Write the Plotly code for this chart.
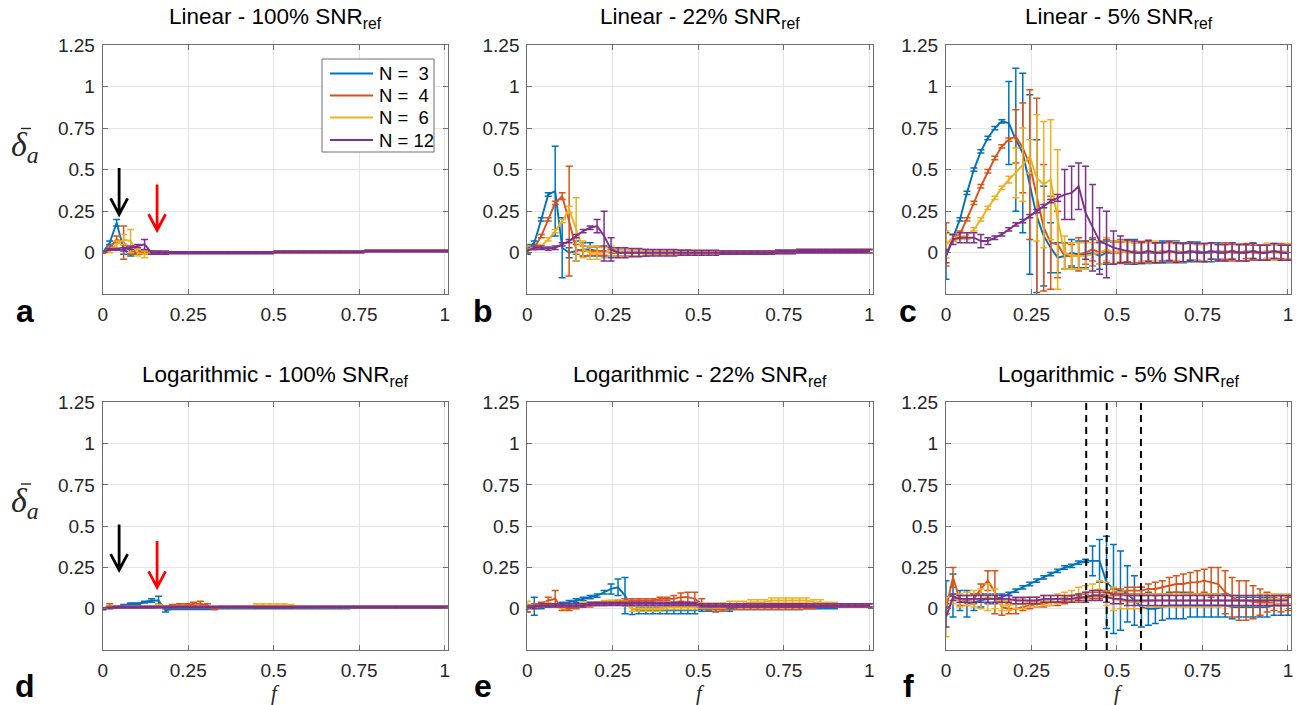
import plotly.graph_objects as go

# ---------------- data ----------------
f_values = [round(k / 49, 4) for k in range(50)]
series_labels = ["N =\u00a0\u00a03", "N =\u00a0\u00a04", "N =\u00a0\u00a06", "N = 12"]
series_colors = ["#0072BD", "#D95319", "#EDB120", "#7E2F8E"]
panel_titles = ["Linear - 100% SNR<sub>ref</sub>", "Linear - 22% SNR<sub>ref</sub>",
                "Linear - 5% SNR<sub>ref</sub>", "Logarithmic - 100% SNR<sub>ref</sub>",
                "Logarithmic - 22% SNR<sub>ref</sub>", "Logarithmic - 5% SNR<sub>ref</sub>"]
panel_letters = ["a", "b", "c", "d", "e", "f"]
x_tick_vals = [0, 0.25, 0.5, 0.75, 1]
x_tick_text = ["0", "0.25", "0.5", "0.75", "1"]
y_tick_vals = [0, 0.25, 0.5, 0.75, 1, 1.25]
y_tick_text = ["0", "0.25", "0.5", "0.75", "1", "1.25"]

arrow_f = [0.048, 0.159]
arrow_top_start = [0.51, 0.41]
arrow_top_end = [0.23, 0.135]
arrow_bottom_start = [0.51, 0.41]
arrow_bottom_end = [0.235, 0.13]
arrow_colors = ["black", "red"]
dashed_f = [0.41, 0.47, 0.57]

# Linear - 100%
lin100_n3 = [0.00, 0.06, 0.18, 0.02, -0.01, 0.00, 0.00, 0.00, 0.00, 0.00,
             0.00, 0.00, 0.00, 0.00, 0.00, 0.00, 0.00, 0.00, 0.00, 0.00,
             0.00, 0.00, 0.00, 0.00, 0.00, 0.005, 0.005, 0.005, 0.005, 0.005,
             0.005, 0.005, 0.005, 0.005, 0.005, 0.005, 0.005, 0.005, 0.01, 0.01,
             0.01, 0.01, 0.01, 0.01, 0.01, 0.01, 0.01, 0.01, 0.01, 0.01]
lin100_n3_err = [0.00, 0.01, 0.02, 0.03, 0.01, 0.01, 0.01, 0.01, 0.005, 0.005,
                 0.005, 0.005, 0.005, 0.005, 0.005, 0.005, 0.005, 0.005, 0.005, 0.005,
                 0.005, 0.005, 0.005, 0.005, 0.005, 0.005, 0.005, 0.005, 0.005, 0.005,
                 0.005, 0.005, 0.005, 0.005, 0.005, 0.005, 0.005, 0.005, 0.005, 0.005,
                 0.005, 0.005, 0.005, 0.005, 0.005, 0.005, 0.005, 0.005, 0.005, 0.005]
lin100_n4 = [0.00, 0.03, 0.08, 0.06, 0.01, 0.00, 0.00, 0.00, 0.00, 0.00,
             0.00, 0.00, 0.00, 0.00, 0.00, 0.00, 0.00, 0.00, 0.00, 0.00,
             0.00, 0.00, 0.00, 0.00, 0.00, 0.005, 0.005, 0.005, 0.005, 0.005,
             0.005, 0.005, 0.005, 0.005, 0.005, 0.005, 0.005, 0.005, 0.01, 0.01,
             0.01, 0.01, 0.01, 0.01, 0.01, 0.01, 0.01, 0.01, 0.01, 0.01]
lin100_n4_err = [0.00, 0.01, 0.02, 0.10, 0.02, 0.01, 0.01, 0.005, 0.005, 0.005,
                 0.005, 0.005, 0.005, 0.005, 0.005, 0.005, 0.005, 0.005, 0.005, 0.005,
                 0.005, 0.005, 0.005, 0.005, 0.005, 0.005, 0.005, 0.005, 0.005, 0.005,
                 0.005, 0.005, 0.005, 0.005, 0.005, 0.005, 0.005, 0.005, 0.005, 0.005,
                 0.005, 0.005, 0.005, 0.005, 0.005, 0.005, 0.005, 0.005, 0.005, 0.005]
lin100_n6 = [0.00, 0.01, 0.05, 0.08, 0.07, 0.00, -0.01, 0.00, 0.00, 0.00,
             0.00, 0.00, 0.00, 0.00, 0.00, 0.00, 0.00, 0.00, 0.00, 0.00,
             0.00, 0.00, 0.00, 0.00, 0.00, 0.005, 0.005, 0.005, 0.005, 0.005,
             0.005, 0.005, 0.005, 0.005, 0.005, 0.005, 0.005, 0.005, 0.01, 0.01,
             0.01, 0.01, 0.01, 0.01, 0.01, 0.01, 0.01, 0.01, 0.01, 0.01]
lin100_n6_err = [0.00, 0.01, 0.02, 0.03, 0.07, 0.02, 0.02, 0.01, 0.01, 0.005,
                 0.005, 0.005, 0.005, 0.005, 0.005, 0.005, 0.005, 0.005, 0.005, 0.005,
                 0.005, 0.005, 0.005, 0.005, 0.005, 0.005, 0.005, 0.005, 0.005, 0.005,
                 0.005, 0.005, 0.005, 0.005, 0.005, 0.005, 0.005, 0.005, 0.005, 0.005,
                 0.005, 0.005, 0.005, 0.005, 0.005, 0.005, 0.005, 0.005, 0.005, 0.005]
lin100_n12 = [0.00, 0.02, 0.02, 0.02, 0.03, 0.04, 0.05, 0.00, 0.00, 0.00,
              0.00, 0.00, 0.00, 0.00, 0.00, 0.00, 0.00, 0.00, 0.00, 0.00,
              0.00, 0.00, 0.00, 0.00, 0.00, 0.005, 0.005, 0.005, 0.005, 0.005,
              0.005, 0.005, 0.005, 0.005, 0.005, 0.005, 0.005, 0.005, 0.01, 0.01,
              0.01, 0.01, 0.01, 0.01, 0.01, 0.01, 0.01, 0.01, 0.01, 0.01]
lin100_n12_err = [0.00, 0.005, 0.005, 0.01, 0.01, 0.01, 0.03, 0.01, 0.01, 0.01,
                  0.005, 0.005, 0.005, 0.005, 0.005, 0.005, 0.005, 0.005, 0.005, 0.005,
                  0.005, 0.005, 0.005, 0.005, 0.005, 0.005, 0.005, 0.005, 0.005, 0.005,
                  0.005, 0.005, 0.005, 0.005, 0.005, 0.005, 0.005, 0.005, 0.005, 0.005,
                  0.005, 0.005, 0.005, 0.005, 0.005, 0.005, 0.005, 0.005, 0.005, 0.005]

# Linear - 22%
lin22_n3 = [0.02, 0.06, 0.20, 0.35, 0.37, 0.03, 0.00, 0.01, 0.02, 0.02,
            0.01, 0.01, 0.00, 0.00, 0.00, 0.00, 0.00, 0.00, 0.00, 0.00,
            0.00, 0.00, 0.00, 0.00, 0.00, 0.00, 0.00, 0.00, 0.00, 0.00,
            0.00, 0.00, 0.00, 0.00, 0.00, 0.00, 0.005, 0.005, 0.005, 0.01,
            0.01, 0.01, 0.01, 0.01, 0.01, 0.01, 0.01, 0.01, 0.01, 0.01]
lin22_n3_err = [0.03, 0.01, 0.01, 0.01, 0.27, 0.18, 0.03, 0.06, 0.04, 0.04,
                0.03, 0.03, 0.03, 0.02, 0.02, 0.02, 0.02, 0.02, 0.015, 0.015,
                0.015, 0.015, 0.015, 0.015, 0.01, 0.01, 0.01, 0.01, 0.01, 0.01,
                0.01, 0.01, 0.01, 0.01, 0.01, 0.01, 0.01, 0.01, 0.01, 0.01,
                0.01, 0.01, 0.01, 0.01, 0.01, 0.01, 0.01, 0.01, 0.01, 0.01]
lin22_n4 = [0.02, 0.03, 0.10, 0.20, 0.30, 0.34, 0.19, 0.02, 0.01, 0.01,
            0.01, 0.01, 0.00, 0.00, 0.00, 0.00, 0.00, 0.00, 0.00, 0.00,
            0.00, 0.00, 0.00, 0.00, 0.00, 0.00, 0.00, 0.00, 0.00, 0.00,
            0.00, 0.00, 0.00, 0.00, 0.00, 0.00, 0.005, 0.005, 0.005, 0.01,
            0.01, 0.01, 0.01, 0.01, 0.01, 0.01, 0.01, 0.01, 0.01, 0.01]
lin22_n4_err = [0.02, 0.01, 0.01, 0.01, 0.01, 0.02, 0.33, 0.03, 0.03, 0.025,
                0.025, 0.025, 0.02, 0.02, 0.02, 0.02, 0.02, 0.015, 0.015, 0.015,
                0.015, 0.015, 0.015, 0.015, 0.01, 0.01, 0.01, 0.01, 0.01, 0.01,
                0.01, 0.01, 0.01, 0.01, 0.01, 0.01, 0.01, 0.01, 0.01, 0.01,
                0.01, 0.01, 0.01, 0.01, 0.01, 0.01, 0.01, 0.01, 0.01, 0.01]
lin22_n6 = [0.02, 0.03, 0.04, 0.08, 0.13, 0.19, 0.26, 0.14, 0.02, 0.00,
            0.00, 0.00, 0.01, 0.00, 0.00, 0.00, 0.00, 0.00, 0.00, 0.00,
            0.00, 0.00, 0.00, 0.00, 0.00, 0.00, 0.00, 0.00, 0.00, 0.00,
            0.00, 0.00, 0.00, 0.00, 0.00, 0.00, 0.005, 0.005, 0.005, 0.01,
            0.01, 0.01, 0.01, 0.01, 0.01, 0.01, 0.01, 0.01, 0.01, 0.01]
lin22_n6_err = [0.02, 0.01, 0.01, 0.01, 0.01, 0.01, 0.02, 0.19, 0.05, 0.04,
                0.04, 0.03, 0.03, 0.02, 0.02, 0.02, 0.02, 0.015, 0.015, 0.015,
                0.015, 0.015, 0.015, 0.015, 0.01, 0.01, 0.01, 0.01, 0.01, 0.01,
                0.01, 0.01, 0.01, 0.01, 0.01, 0.01, 0.01, 0.01, 0.01, 0.01,
                0.01, 0.01, 0.01, 0.01, 0.01, 0.01, 0.01, 0.01, 0.01, 0.01]
lin22_n12 = [0.01, 0.03, 0.03, 0.025, 0.03, 0.05, 0.07, 0.10, 0.13, 0.15,
             0.16, 0.10, 0.02, 0.00, 0.00, 0.00, 0.00, 0.00, 0.00, 0.00,
             0.00, 0.00, 0.00, 0.00, 0.00, 0.00, 0.00, 0.00, 0.00, 0.00,
             0.00, 0.00, 0.00, 0.00, 0.00, 0.00, 0.005, 0.005, 0.005, 0.01,
             0.01, 0.01, 0.01, 0.01, 0.01, 0.01, 0.01, 0.01, 0.01, 0.01]
lin22_n12_err = [0.01, 0.01, 0.01, 0.01, 0.01, 0.01, 0.01, 0.01, 0.01, 0.01,
                 0.04, 0.15, 0.07, 0.03, 0.03, 0.025, 0.025, 0.02, 0.02, 0.02,
                 0.02, 0.02, 0.015, 0.015, 0.015, 0.015, 0.015, 0.015, 0.01, 0.01,
                 0.01, 0.01, 0.01, 0.01, 0.01, 0.01, 0.01, 0.01, 0.01, 0.01,
                 0.01, 0.01, 0.01, 0.01, 0.01, 0.01, 0.01, 0.01, 0.01, 0.01]

# Linear - 5%
lin5_n3 = [-0.02, 0.09, 0.20, 0.36, 0.50, 0.61, 0.69, 0.75, 0.79, 0.78,
           0.68, 0.60, 0.41, 0.22, 0.10, 0.03, -0.03, -0.02, 0.00, -0.01,
           -0.01, 0.00, -0.02, 0.00, 0.00, 0.01, 0.00, 0.01, 0.00, 0.00,
           0.00, 0.01, 0.00, 0.01, 0.00, 0.00, 0.01, 0.00, 0.00, 0.01,
           0.00, 0.01, 0.00, 0.00, 0.01, 0.00, 0.00, 0.01, 0.00, 0.00]
lin5_n3_err = [0.14, 0.02, 0.01, 0.01, 0.01, 0.01, 0.01, 0.01, 0.01, 0.25,
               0.43, 0.48, 0.54, 0.46, 0.30, 0.15, 0.09, 0.08, 0.08, 0.08,
               0.08, 0.08, 0.08, 0.07, 0.07, 0.07, 0.07, 0.07, 0.065, 0.065,
               0.06, 0.06, 0.06, 0.06, 0.06, 0.055, 0.055, 0.055, 0.055, 0.05,
               0.05, 0.05, 0.05, 0.05, 0.05, 0.045, 0.045, 0.045, 0.045, 0.045]
lin5_n4 = [0.05, 0.09, 0.11, 0.20, 0.30, 0.40, 0.49, 0.57, 0.64, 0.68,
           0.70, 0.63, 0.53, 0.33, 0.15, 0.06, 0.05, -0.02, -0.02, -0.01,
           0.00, 0.02, 0.00, 0.01, 0.00, 0.00, 0.01, 0.00, 0.00, 0.01,
           0.00, 0.00, 0.01, 0.00, 0.00, 0.01, 0.00, 0.00, 0.01, 0.00,
           0.01, 0.00, 0.00, 0.01, 0.00, 0.00, 0.01, 0.00, 0.01, 0.00]
lin5_n4_err = [0.13, 0.02, 0.02, 0.01, 0.01, 0.01, 0.01, 0.01, 0.01, 0.01,
               0.16, 0.27, 0.45, 0.60, 0.38, 0.28, 0.20, 0.08, 0.07, 0.10,
               0.07, 0.07, 0.07, 0.07, 0.065, 0.065, 0.065, 0.06, 0.06, 0.06,
               0.06, 0.06, 0.055, 0.055, 0.055, 0.055, 0.05, 0.05, 0.05, 0.05,
               0.05, 0.05, 0.05, 0.045, 0.045, 0.045, 0.045, 0.045, 0.045, 0.045]
lin5_n6 = [0.05, 0.09, 0.10, 0.10, 0.14, 0.20, 0.27, 0.33, 0.39, 0.44,
           0.48, 0.53, 0.58, 0.45, 0.41, 0.44, 0.20, 0.00, -0.02, -0.02,
           -0.02, -0.01, 0.00, 0.02, 0.00, 0.01, 0.00, 0.00, 0.01, 0.00,
           0.01, 0.00, 0.00, 0.01, 0.00, 0.01, 0.00, 0.00, 0.01, 0.00,
           0.00, 0.01, 0.00, 0.00, 0.01, 0.00, 0.01, 0.00, 0.00, 0.01]
lin5_n6_err = [0.08, 0.02, 0.02, 0.02, 0.01, 0.01, 0.01, 0.01, 0.01, 0.02,
               0.15, 0.22, 0.10, 0.38, 0.38, 0.36, 0.42, 0.10, 0.08, 0.08,
               0.08, 0.07, 0.07, 0.07, 0.07, 0.065, 0.065, 0.065, 0.06, 0.06,
               0.06, 0.06, 0.055, 0.055, 0.055, 0.055, 0.05, 0.05, 0.05, 0.05,
               0.05, 0.05, 0.05, 0.045, 0.045, 0.045, 0.045, 0.045, 0.045, 0.045]
lin5_n12 = [-0.02, 0.08, 0.09, 0.09, 0.09, 0.07, 0.07, 0.09, 0.11, 0.14,
            0.17, 0.19, 0.22, 0.25, 0.28, 0.31, 0.33, 0.35, 0.36, 0.40,
            0.24, 0.15, 0.07, 0.05, 0.03, 0.02, 0.01, 0.00, 0.00, 0.01,
            0.00, 0.00, 0.01, 0.00, 0.00, 0.01, 0.00, 0.00, 0.01, 0.00,
            0.00, 0.01, 0.00, 0.00, 0.01, 0.00, 0.00, 0.01, 0.00, 0.00]
lin5_n12_err = [0.04, 0.03, 0.03, 0.03, 0.03, 0.04, 0.02, 0.01, 0.01, 0.01,
                0.01, 0.01, 0.01, 0.01, 0.01, 0.01, 0.02, 0.15, 0.16, 0.14,
                0.28, 0.26, 0.20, 0.20, 0.10, 0.08, 0.07, 0.07, 0.065, 0.065,
                0.06, 0.06, 0.06, 0.06, 0.055, 0.055, 0.055, 0.055, 0.05, 0.05,
                0.05, 0.05, 0.05, 0.05, 0.045, 0.045, 0.045, 0.045, 0.045, 0.045]

# Logarithmic - 100%
log100_n3 = [0.00, 0.01, 0.01, 0.02, 0.03, 0.03, 0.04, 0.05, 0.05, -0.01,
             0.00, 0.00, 0.00, 0.00, 0.00, 0.00, 0.00, 0.005, 0.005, 0.005,
             0.005, 0.005, 0.005, 0.005, 0.005, 0.005, 0.005, 0.005, 0.005, 0.005,
             0.005, 0.005, 0.005, 0.005, 0.005, 0.005, 0.01, 0.01, 0.01, 0.01,
             0.01, 0.01, 0.01, 0.01, 0.01, 0.01, 0.01, 0.01, 0.01, 0.01]
log100_n3_err = [0.005, 0.005, 0.005, 0.005, 0.005, 0.005, 0.005, 0.01, 0.025, 0.01,
                 0.005, 0.005, 0.005, 0.005, 0.005, 0.005, 0.005, 0.005, 0.005, 0.005,
                 0.005, 0.005, 0.005, 0.005, 0.005, 0.005, 0.005, 0.005, 0.005, 0.005,
                 0.005, 0.005, 0.005, 0.005, 0.005, 0.005, 0.005, 0.005, 0.005, 0.005,
                 0.005, 0.005, 0.005, 0.005, 0.005, 0.005, 0.005, 0.005, 0.005, 0.005]
log100_n4 = [0.00, 0.02, 0.01, 0.01, 0.01, 0.01, 0.01, 0.01, 0.02, 0.01,
             0.02, 0.02, 0.02, 0.03, 0.03, 0.02, 0.00, 0.01, 0.01, 0.01,
             0.01, 0.01, 0.01, 0.01, 0.01, 0.01, 0.01, 0.01, 0.01, 0.01,
             0.01, 0.01, 0.01, 0.01, 0.01, 0.01, 0.01, 0.01, 0.01, 0.01,
             0.01, 0.01, 0.01, 0.01, 0.01, 0.01, 0.01, 0.01, 0.01, 0.01]
log100_n4_err = [0.005, 0.01, 0.005, 0.005, 0.005, 0.005, 0.005, 0.005, 0.005, 0.005,
                 0.005, 0.01, 0.01, 0.01, 0.015, 0.01, 0.005, 0.005, 0.005, 0.005,
                 0.005, 0.005, 0.005, 0.005, 0.005, 0.005, 0.005, 0.005, 0.005, 0.005,
                 0.005, 0.005, 0.005, 0.005, 0.005, 0.005, 0.005, 0.005, 0.005, 0.005,
                 0.005, 0.005, 0.005, 0.005, 0.005, 0.005, 0.005, 0.005, 0.005, 0.005]
log100_n6 = [0.00, 0.01, 0.01, 0.01, 0.01, 0.01, 0.01, 0.01, 0.02, 0.01,
             0.01, 0.01, 0.01, 0.01, 0.01, 0.01, 0.01, 0.01, 0.01, 0.01,
             0.01, 0.01, 0.02, 0.02, 0.02, 0.02, 0.02, 0.02, 0.01, 0.01,
             0.01, 0.01, 0.01, 0.01, 0.01, 0.01, 0.01, 0.01, 0.01, 0.01,
             0.01, 0.01, 0.01, 0.01, 0.01, 0.01, 0.01, 0.01, 0.01, 0.01]
log100_n6_err = [0.005, 0.005, 0.005, 0.005, 0.005, 0.005, 0.005, 0.005, 0.005, 0.005,
                 0.005, 0.005, 0.005, 0.005, 0.005, 0.005, 0.005, 0.005, 0.005, 0.005,
                 0.005, 0.005, 0.01, 0.01, 0.01, 0.01, 0.01, 0.005, 0.005, 0.005,
                 0.005, 0.005, 0.005, 0.005, 0.005, 0.005, 0.005, 0.005, 0.005, 0.005,
                 0.005, 0.005, 0.005, 0.005, 0.005, 0.005, 0.005, 0.005, 0.005, 0.005]
log100_n12 = [0.00, 0.005, 0.01, 0.01, 0.01, 0.01, 0.01, 0.01, 0.01, 0.01,
              0.01, 0.01, 0.01, 0.01, 0.01, 0.01, 0.01, 0.01, 0.01, 0.01,
              0.01, 0.01, 0.01, 0.01, 0.01, 0.01, 0.01, 0.01, 0.01, 0.01,
              0.01, 0.01, 0.01, 0.01, 0.01, 0.01, 0.01, 0.01, 0.01, 0.01,
              0.01, 0.01, 0.01, 0.01, 0.01, 0.01, 0.01, 0.01, 0.01, 0.01]
log100_n12_err = [0.005, 0.005, 0.005, 0.005, 0.005, 0.005, 0.005, 0.005, 0.005, 0.005,
                  0.005, 0.005, 0.005, 0.005, 0.005, 0.005, 0.005, 0.005, 0.005, 0.005,
                  0.005, 0.005, 0.005, 0.005, 0.005, 0.005, 0.005, 0.005, 0.005, 0.005,
                  0.005, 0.005, 0.005, 0.005, 0.005, 0.005, 0.005, 0.005, 0.005, 0.005,
                  0.005, 0.005, 0.005, 0.005, 0.005, 0.005, 0.005, 0.005, 0.005, 0.005]

# Logarithmic - 22%
log22_n3 = [0.00, 0.015, 0.01, 0.02, 0.02, 0.03, 0.04, 0.05, 0.06, 0.07,
            0.08, 0.10, 0.12, 0.13, 0.08, 0.00, -0.01, -0.01, -0.01, -0.01,
            -0.01, -0.01, -0.01, -0.01, -0.01, 0.00, 0.00, 0.00, 0.00, 0.00,
            0.01, 0.01, 0.01, 0.01, 0.01, 0.01, 0.01, 0.01, 0.01, 0.01,
            0.01, 0.01, 0.01, 0.01, 0.01, 0.02, 0.02, 0.02, 0.02, 0.02]
log22_n3_err = [0.02, 0.055, 0.01, 0.01, 0.01, 0.01, 0.01, 0.01, 0.01, 0.01,
                0.01, 0.01, 0.03, 0.05, 0.11, 0.035, 0.02, 0.02, 0.02, 0.02,
                0.02, 0.02, 0.02, 0.02, 0.02, 0.015, 0.015, 0.015, 0.015, 0.015,
                0.015, 0.015, 0.015, 0.015, 0.015, 0.015, 0.015, 0.015, 0.015, 0.015,
                0.01, 0.01, 0.01, 0.01, 0.01, 0.01, 0.01, 0.01, 0.01, 0.01]
log22_n4 = [0.00, 0.02, 0.03, 0.05, 0.06, 0.00, 0.00, 0.01, 0.02, 0.02,
            0.03, 0.03, 0.04, 0.04, 0.05, 0.05, 0.05, 0.05, 0.05, 0.06,
            0.06, 0.06, 0.07, 0.07, 0.06, 0.03, 0.01, 0.00, 0.00, 0.01,
            0.01, 0.01, 0.01, 0.01, 0.01, 0.01, 0.01, 0.01, 0.01, 0.01,
            0.01, 0.01, 0.02, 0.02, 0.02, 0.02, 0.02, 0.02, 0.02, 0.02]
log22_n4_err = [0.02, 0.01, 0.01, 0.02, 0.05, 0.01, 0.01, 0.01, 0.01, 0.01,
                0.01, 0.01, 0.01, 0.01, 0.01, 0.01, 0.01, 0.01, 0.01, 0.01,
                0.01, 0.02, 0.025, 0.03, 0.04, 0.03, 0.02, 0.02, 0.015, 0.015,
                0.015, 0.015, 0.015, 0.015, 0.015, 0.015, 0.015, 0.015, 0.015, 0.015,
                0.01, 0.01, 0.01, 0.01, 0.01, 0.01, 0.01, 0.01, 0.01, 0.01]
log22_n6 = [0.03, 0.01, 0.02, 0.03, 0.02, 0.01, 0.02, 0.02, 0.03, 0.03,
            0.03, 0.04, 0.04, 0.04, 0.03, 0.00, 0.00, 0.00, 0.00, 0.00,
            0.01, 0.01, 0.01, 0.01, 0.01, 0.02, 0.02, 0.02, 0.02, 0.03,
            0.03, 0.03, 0.04, 0.04, 0.04, 0.05, 0.05, 0.05, 0.05, 0.05,
            0.05, 0.04, 0.04, 0.03, 0.03, 0.02, 0.02, 0.02, 0.02, 0.02]
log22_n6_err = [0.015, 0.01, 0.01, 0.01, 0.01, 0.01, 0.01, 0.01, 0.01, 0.01,
                0.01, 0.01, 0.01, 0.015, 0.015, 0.015, 0.015, 0.015, 0.015, 0.015,
                0.015, 0.015, 0.015, 0.015, 0.015, 0.015, 0.015, 0.015, 0.015, 0.015,
                0.015, 0.015, 0.015, 0.015, 0.015, 0.015, 0.015, 0.015, 0.015, 0.015,
                0.015, 0.015, 0.015, 0.01, 0.01, 0.01, 0.01, 0.01, 0.01, 0.01]
log22_n12 = [0.01, 0.01, 0.02, 0.02, 0.02, 0.02, 0.02, 0.02, 0.02, 0.03,
             0.03, 0.03, 0.03, 0.03, 0.03, 0.03, 0.03, 0.03, 0.03, 0.03,
             0.03, 0.03, 0.03, 0.03, 0.03, 0.02, 0.02, 0.02, 0.02, 0.02,
             0.02, 0.02, 0.02, 0.02, 0.02, 0.02, 0.02, 0.02, 0.02, 0.02,
             0.02, 0.02, 0.02, 0.02, 0.02, 0.02, 0.02, 0.02, 0.02, 0.02]
log22_n12_err = [0.01, 0.01, 0.01, 0.01, 0.01, 0.01, 0.01, 0.01, 0.01, 0.01,
                 0.01, 0.01, 0.01, 0.01, 0.01, 0.01, 0.01, 0.01, 0.01, 0.01,
                 0.01, 0.01, 0.01, 0.01, 0.01, 0.01, 0.01, 0.01, 0.01, 0.01,
                 0.01, 0.01, 0.01, 0.01, 0.01, 0.01, 0.01, 0.01, 0.01, 0.01,
                 0.01, 0.01, 0.01, 0.01, 0.01, 0.01, 0.01, 0.01, 0.01, 0.01]

# Logarithmic - 5%
log5_n3 = [0.07, 0.08, 0.05, 0.03, 0.04, 0.05, 0.06, 0.06, 0.07, 0.09,
           0.11, 0.13, 0.15, 0.17, 0.19, 0.21, 0.23, 0.25, 0.26, 0.28,
           0.29, 0.29, 0.29, 0.16, 0.12, 0.11, 0.09, 0.05, 0.01, 0.00,
           0.00, 0.01, 0.02, 0.02, 0.02, 0.02, 0.02, 0.02, 0.02, 0.02,
           0.02, 0.01, 0.01, 0.01, 0.01, 0.01, 0.01, 0.02, 0.02, 0.02]
log5_n3_err = [0.10, 0.13, 0.06, 0.08, 0.05, 0.04, 0.03, 0.03, 0.02, 0.01,
               0.01, 0.01, 0.01, 0.01, 0.01, 0.01, 0.01, 0.01, 0.01, 0.01,
               0.01, 0.09, 0.13, 0.28, 0.27, 0.24, 0.17, 0.15, 0.12, 0.10,
               0.09, 0.08, 0.08, 0.08, 0.08, 0.07, 0.07, 0.07, 0.07, 0.07,
               0.07, 0.07, 0.06, 0.06, 0.06, 0.06, 0.06, 0.06, 0.06, 0.06]
log5_n4 = [0.00, 0.19, 0.05, 0.05, 0.06, 0.12, 0.17, 0.10, 0.01, 0.00,
           0.00, 0.01, 0.02, 0.03, 0.03, 0.04, 0.04, 0.05, 0.06, 0.06,
           0.07, 0.08, 0.08, 0.09, 0.10, 0.10, 0.11, 0.11, 0.11, 0.12,
           0.12, 0.13, 0.14, 0.15, 0.15, 0.16, 0.16, 0.17, 0.16, 0.15,
           0.10, 0.07, 0.05, 0.05, 0.04, 0.04, 0.04, 0.03, 0.03, 0.03]
log5_n4_err = [0.03, 0.06, 0.03, 0.03, 0.03, 0.03, 0.06, 0.13, 0.05, 0.03,
               0.03, 0.02, 0.02, 0.02, 0.02, 0.02, 0.02, 0.02, 0.02, 0.02,
               0.02, 0.02, 0.02, 0.02, 0.02, 0.02, 0.02, 0.02, 0.02, 0.03,
               0.04, 0.04, 0.05, 0.05, 0.06, 0.06, 0.07, 0.07, 0.09, 0.10,
               0.13, 0.12, 0.12, 0.12, 0.10, 0.08, 0.06, 0.04, 0.05, 0.04]
log5_n6 = [-0.05, 0.06, 0.05, 0.06, 0.06, 0.06, 0.07, 0.06, 0.02, 0.02,
           0.03, 0.03, 0.04, 0.04, 0.05, 0.05, 0.06, 0.07, 0.08, 0.09,
           0.10, 0.11, 0.12, 0.09, 0.06, 0.05, 0.04, 0.04, 0.04, 0.05,
           0.05, 0.05, 0.05, 0.05, 0.05, 0.05, 0.05, 0.05, 0.05, 0.05,
           0.05, 0.05, 0.05, 0.05, 0.05, 0.06, 0.06, 0.06, 0.06, 0.06]
log5_n6_err = [0.12, 0.03, 0.04, 0.04, 0.05, 0.06, 0.08, 0.06, 0.03, 0.03,
               0.03, 0.03, 0.03, 0.03, 0.03, 0.03, 0.03, 0.03, 0.03, 0.04,
               0.04, 0.04, 0.05, 0.07, 0.07, 0.05, 0.04, 0.04, 0.04, 0.04,
               0.04, 0.04, 0.04, 0.04, 0.04, 0.04, 0.04, 0.04, 0.04, 0.04,
               0.03, 0.03, 0.03, 0.03, 0.03, 0.03, 0.03, 0.03, 0.03, 0.03]
log5_n12 = [-0.05, 0.07, 0.06, 0.06, 0.06, 0.06, 0.06, 0.06, 0.06, 0.06,
            0.05, 0.05, 0.05, 0.05, 0.06, 0.06, 0.06, 0.06, 0.06, 0.07,
            0.07, 0.08, 0.08, 0.07, 0.06, 0.06, 0.05, 0.05, 0.05, 0.05,
            0.05, 0.05, 0.05, 0.05, 0.05, 0.05, 0.05, 0.05, 0.05, 0.05,
            0.05, 0.05, 0.05, 0.05, 0.05, 0.05, 0.05, 0.05, 0.05, 0.05]
log5_n12_err = [0.06, 0.02, 0.02, 0.02, 0.02, 0.02, 0.02, 0.02, 0.02, 0.02,
                0.02, 0.02, 0.02, 0.02, 0.02, 0.02, 0.02, 0.02, 0.02, 0.02,
                0.03, 0.03, 0.03, 0.03, 0.03, 0.03, 0.03, 0.03, 0.03, 0.03,
                0.03, 0.03, 0.03, 0.03, 0.03, 0.03, 0.03, 0.03, 0.03, 0.03,
                0.03, 0.03, 0.03, 0.03, 0.03, 0.03, 0.03, 0.03, 0.03, 0.03]

panel_values = [
    [lin100_n3, lin100_n4, lin100_n6, lin100_n12],
    [lin22_n3, lin22_n4, lin22_n6, lin22_n12],
    [lin5_n3, lin5_n4, lin5_n6, lin5_n12],
    [log100_n3, log100_n4, log100_n6, log100_n12],
    [log22_n3, log22_n4, log22_n6, log22_n12],
    [log5_n3, log5_n4, log5_n6, log5_n12],
]
panel_errors = [
    [lin100_n3_err, lin100_n4_err, lin100_n6_err, lin100_n12_err],
    [lin22_n3_err, lin22_n4_err, lin22_n6_err, lin22_n12_err],
    [lin5_n3_err, lin5_n4_err, lin5_n6_err, lin5_n12_err],
    [log100_n3_err, log100_n4_err, log100_n6_err, log100_n12_err],
    [log22_n3_err, log22_n4_err, log22_n6_err, log22_n12_err],
    [log5_n3_err, log5_n4_err, log5_n6_err, log5_n12_err],
]

# ---------------- layout (pixels) ----------------
W, H = 1301, 705
SANS = "Liberation Sans, Arial, Helvetica, sans-serif"
SERIF = "Liberation Serif, Times New Roman, serif"
AXC = "#262626"
FRAME = "#6e6e6e"
col_left = [102.7, 527.3, 946.0]
col_width = 345.4
row_top = [44.95, 402.45]
row_bottom = [294.25, 650.0]
X_PX_PER_UNIT = 342.0
Y_PX_PER_UNIT = 166.0

# legend box (pixels) in panel a
leg_box = [322, 59, 434, 152]
leg_rows = [73.5, 95.5, 117.5, 140.0]
leg_line_x = [330, 373]
leg_text_x = 377


def px_x(p):
    return p / W


def px_y(p):
    return 1 - p / H


fig = go.Figure()
layout_axes = {}
annotations = []
shapes = []

for p in range(6):
    r, c = divmod(p, 3)
    idx = p + 1
    xa = "x" if idx == 1 else f"x{idx}"
    ya = "y" if idx == 1 else f"y{idx}"
    for s in range(4):
        fig.add_trace(go.Scatter(
            x=f_values, y=panel_values[p][s], mode="lines",
            line=dict(color=series_colors[s], width=1.9),
            error_y=dict(type="data", array=panel_errors[p][s], visible=True,
                         color=series_colors[s], thickness=1.5, width=3.5),
            name=series_labels[s], showlegend=False, xaxis=xa, yaxis=ya,
        ))
    xdom = [px_x(col_left[c]), px_x(col_left[c] + col_width)]
    ydom = [px_y(row_bottom[r]), px_y(row_top[r])]
    layout_axes["xaxis" if idx == 1 else f"xaxis{idx}"] = dict(
        domain=xdom, anchor=ya, range=[0, 1.01], automargin=False,
        tickmode="array", tickvals=x_tick_vals, ticktext=x_tick_text,
        ticks="inside", ticklen=5, tickwidth=1, tickcolor=FRAME,
        showline=True, linecolor=FRAME, linewidth=1, mirror="ticks",
        showgrid=True, gridcolor="#e4e4e4", gridwidth=1, zeroline=False,
        tickfont=dict(family=SANS, size=19, color=AXC), ticklabelstandoff=3,
    )
    layout_axes["yaxis" if idx == 1 else f"yaxis{idx}"] = dict(
        domain=ydom, anchor=xa, range=[-0.25, 1.25], automargin=False,
        tickmode="array", tickvals=y_tick_vals, ticktext=y_tick_text,
        ticks="inside", ticklen=5, tickwidth=1, tickcolor=FRAME,
        showline=True, linecolor=FRAME, linewidth=1, mirror="ticks",
        showgrid=True, gridcolor="#e4e4e4", gridwidth=1, zeroline=False,
        tickfont=dict(family=SANS, size=19, color=AXC), ticklabelstandoff=3,
    )
    annotations.append(dict(
        text=panel_titles[p], xref="paper", yref="paper",
        x=px_x(col_left[c] + col_width / 2), y=px_y(row_top[r] - 26.5),
        xanchor="center", yanchor="middle", showarrow=False,
        font=dict(family=SANS, size=22.5, color="black"),
    ))
    letter_x = [25, 483, 908][c]
    letter_y = [311, 686][r]
    annotations.append(dict(
        text=f"<b>{panel_letters[p]}</b>", xref="paper", yref="paper",
        x=px_x(letter_x), y=px_y(letter_y), xanchor="center", yanchor="middle",
        showarrow=False, font=dict(family=SANS, size=32, color="black"),
    ))
    if r == 1:
        annotations.append(dict(
            text="<i>f</i>", xref="paper", yref="paper",
            x=px_x(col_left[c] + col_width / 2), y=px_y(693),
            xanchor="center", yanchor="middle", showarrow=False,
            font=dict(family=SERIF, size=21, color=AXC),
        ))
    if c == 0:
        ylab = [147, 502.5][r]
        annotations.append(dict(
            text="<i>\u03b4</i><sub><i>a</i></sub>", xref="paper", yref="paper",
            x=px_x(25), y=px_y(ylab), xanchor="center", yanchor="middle",
            showarrow=False, font=dict(family=SERIF, size=34, color=AXC),
        ))
        shapes.append(dict(type="line", xref="paper", yref="paper",
                           x0=px_x(21), x1=px_x(31),
                           y0=px_y(ylab - 18.5), y1=px_y(ylab - 18.5),
                           line=dict(color=AXC, width=1.4)))
        starts = arrow_top_start if r == 0 else arrow_bottom_start
        ends = arrow_top_end if r == 0 else arrow_bottom_end
        for k in range(2):
            x0 = arrow_f[k]
            dx = 8.5 / X_PX_PER_UNIT
            dy = 16.0 / Y_PX_PER_UNIT
            path = (f"M {x0},{starts[k]} L {x0},{ends[k]} "
                    f"M {x0 - dx},{ends[k] + dy} L {x0},{ends[k]} L {x0 + dx},{ends[k] + dy}")
            shapes.append(dict(type="path", path=path, xref=xa, yref=ya,
                               line=dict(color=arrow_colors[k], width=2.8)))
    if p == 5:
        for xv in dashed_f:
            shapes.append(dict(type="line", x0=xv, x1=xv, y0=0, y1=1,
                               xref=xa, yref=f"{ya} domain",
                               line=dict(color="black", width=2, dash="7px,5px")))

# legend (panel a)
shapes.append(dict(type="rect", xref="paper", yref="paper",
                   x0=px_x(leg_box[0]), x1=px_x(leg_box[2]),
                   y0=px_y(leg_box[3]), y1=px_y(leg_box[1]),
                   fillcolor="white", line=dict(color=FRAME, width=1), layer="above"))
for s in range(4):
    shapes.append(dict(type="line", xref="paper", yref="paper",
                       x0=px_x(leg_line_x[0]), x1=px_x(leg_line_x[1]),
                       y0=px_y(leg_rows[s]), y1=px_y(leg_rows[s]),
                       line=dict(color=series_colors[s], width=1.9), layer="above"))
    annotations.append(dict(
        text=series_labels[s], xref="paper", yref="paper",
        x=px_x(leg_text_x), y=px_y(leg_rows[s]), xanchor="left", yanchor="middle",
        showarrow=False, font=dict(family=SANS, size=18.5, color="black"),
    ))

fig.update_layout(
    width=W, height=H, margin=dict(l=0, r=0, t=0, b=0, pad=0, autoexpand=False),
    paper_bgcolor="white", plot_bgcolor="white",
    font=dict(family=SANS, color=AXC), showlegend=False,
    annotations=annotations, shapes=shapes,
    **layout_axes,
)

fig.write_html("out.html", config={"displayModeBar": False},
               post_script="document.body.style.margin='0';document.body.style.overflow='hidden';")
